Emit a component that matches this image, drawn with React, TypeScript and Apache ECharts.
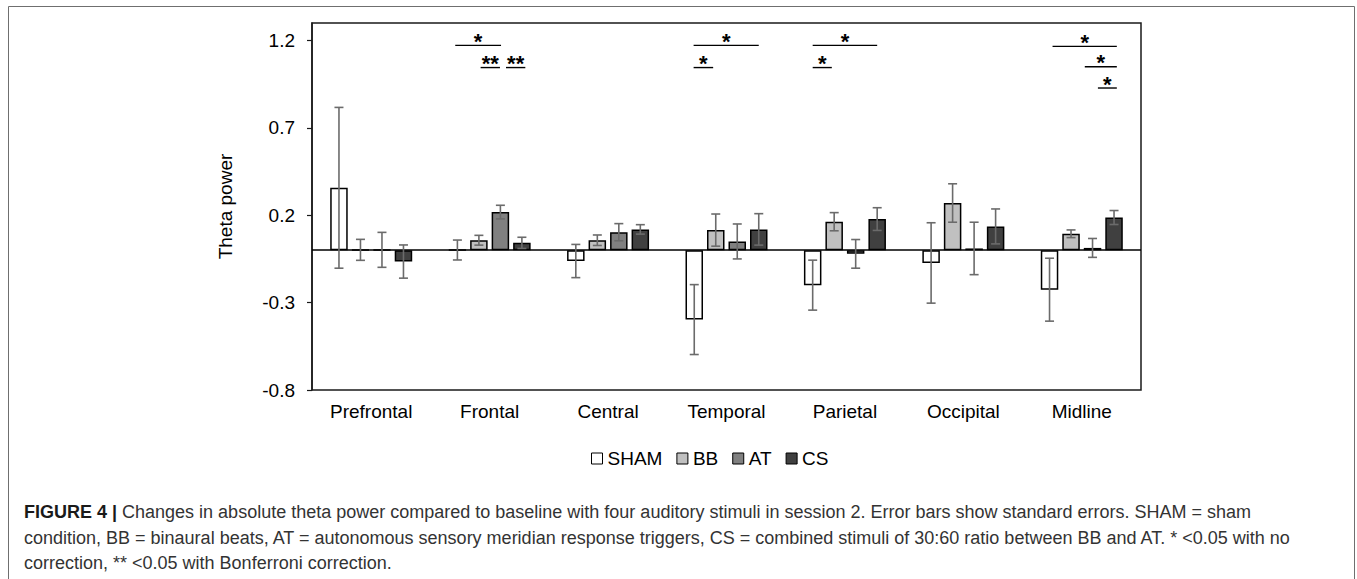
import React, { useEffect, useRef } from "react";
import * as echarts from "echarts";

const categories = ["Prefrontal", "Frontal", "Central", "Temporal", "Parietal", "Occipital", "Midline"];
const seriesNames = ["SHAM", "BB", "AT", "CS"];

const shamMean = [0.357, 0.001, -0.062, -0.397, -0.2, -0.073, -0.226];
const shamErr = [0.46, 0.057, 0.095, 0.2, 0.143, 0.23, 0.18];
const bbMean = [0.002, 0.057, 0.057, 0.115, 0.163, 0.27, 0.094];
const bbErr = [0.06, 0.028, 0.03, 0.092, 0.052, 0.11, 0.022];
const atMean = [0.002, 0.218, 0.103, 0.05, -0.021, 0.01, 0.013];
const atErr = [0.1, 0.039, 0.049, 0.1, 0.082, 0.15, 0.054];
const csMean = [-0.065, 0.042, 0.119, 0.119, 0.178, 0.136, 0.187];
const csErr = [0.095, 0.032, 0.027, 0.09, 0.065, 0.1, 0.04];

const yTicks = [-0.8, -0.3, 0.2, 0.7, 1.2];

// significance brackets: category, from bar position, to bar position, height, label
const sigCategory = [1, 1, 1, 3, 3, 4, 4, 6, 6, 6];
const sigFrom = [-0.1, 1.08, 2.26, -0.03, -0.03, 0, 0, 0.14, 1.64, 2.25];
const sigTo = [2.03, 1.98, 3.16, 3.0, 0.88, 3.0, 0.89, 3.13, 3.13, 3.13];
const sigLevel = [1.172, 1.045, 1.045, 1.172, 1.045, 1.172, 1.045, 1.166, 1.05, 0.928];
const sigLabel = ["*", "**", "**", "*", "*", "*", "*", "*", "*", "*"];

const captionLines = [
  "Changes in absolute theta power compared to baseline with four auditory stimuli in session 2. Error bars show standard errors. SHAM = sham",
  "condition, BB = binaural beats, AT = autonomous sensory meridian response triggers, CS = combined stimuli of 30:60 ratio between BB and AT. * <0.05 with no",
  "correction, ** <0.05 with Bonferroni correction.",
];

const FONT = "'Liberation Sans', Arial, sans-serif";
const BAR_W = 17.5;
const BAR_GAP = 4;
const PITCH = BAR_W + BAR_GAP;
const fills = ["#ffffff", "#c0c0c0", "#808080", "#404040"];

export default function App() {
  const ref = useRef<HTMLDivElement>(null);
  useEffect(() => {
    if (!ref.current) return;
    const chart = echarts.init(ref.current, null, { renderer: "svg" });
    const means = [shamMean, bbMean, atMean, csMean];
    const errs = [shamErr, bbErr, atErr, csErr];

    const barSeries = seriesNames.map((name, i) => ({
      name,
      type: "bar",
      data: means[i],
      barWidth: BAR_W,
      barGap: (BAR_GAP / BAR_W) * 100 + "%",
      itemStyle: { color: fills[i], borderColor: "#000", borderWidth: 1.5 },
      z: 2,
      ...(i === 0
        ? {
            markLine: {
              silent: true,
              symbol: "none",
              label: { show: false },
              lineStyle: { color: "#000", width: 1.5, type: "solid" },
              data: [{ yAxis: 0 }],
              z: 1,
            },
          }
        : {}),
    }));

    const errData: number[][] = [];
    for (let s = 0; s < 4; s++) {
      for (let c = 0; c < categories.length; c++) {
        errData.push([c, s, means[s][c], errs[s][c]]);
      }
    }

    const sigData = sigCategory.map((c, i) => [c, sigFrom[i], sigTo[i], sigLevel[i]]);

    const capStyle = { fontFamily: FONT, fontSize: 18, fill: "#333" };

    const option: any = {
      animation: false,
      grid: {
        left: 312,
        right: 216,
        top: 23,
        bottom: 189,
        show: true,
        borderColor: "#1a1a1a",
        borderWidth: 1.5,
        backgroundColor: "transparent",
      },
      legend: {
        data: seriesNames,
        left: 586,
        top: 444,
        icon: "rect",
        itemWidth: 11,
        itemHeight: 11,
        itemGap: 14,
        selectedMode: false,
        itemStyle: { borderColor: "#000", borderWidth: 1 },
        textStyle: { fontFamily: FONT, fontSize: 19, color: "#000" },
      },
      xAxis: {
        type: "category",
        data: categories,
        axisLine: { show: false, onZero: false },
        axisTick: { show: false },
        axisLabel: { fontFamily: FONT, fontSize: 19, color: "#000", margin: 12 },
        splitLine: { show: false },
      },
      yAxis: {
        type: "value",
        min: -0.8,
        max: 1.3,
        name: "Theta power",
        nameLocation: "middle",
        nameGap: 77,
        nameTextStyle: { fontFamily: FONT, fontSize: 19, color: "#000" },
        axisLine: { show: true, lineStyle: { color: "#1a1a1a", width: 1.5 } },
        axisTick: { show: true, length: 5, customValues: yTicks, lineStyle: { color: "#1a1a1a", width: 1.2 } },
        axisLabel: {
          customValues: yTicks,
          fontFamily: FONT,
          fontSize: 19,
          color: "#000",
          margin: 17,
          formatter: (v: number) => v.toFixed(1),
        },
        splitLine: { show: false },
      },
      series: [
        ...barSeries,
        {
          type: "custom",
          name: "err",
          data: errData,
          encode: { x: 0, y: 2 },
          z: 5,
          silent: true,
          renderItem: (params: any, api: any) => {
            const c = api.value(0);
            const s = api.value(1);
            const m = api.value(2);
            const e = api.value(3);
            const base = api.coord([c, m]);
            const x = base[0] + (s - 1.5) * PITCH;
            const yT = api.coord([c, m + e])[1];
            const yB = api.coord([c, m - e])[1];
            const style = { stroke: "#6b6b6b", lineWidth: 1.6 };
            const hw = 4.5;
            return {
              type: "group",
              children: [
                { type: "line", shape: { x1: x, y1: yT, x2: x, y2: yB }, style },
                { type: "line", shape: { x1: x - hw, y1: yT, x2: x + hw, y2: yT }, style },
                { type: "line", shape: { x1: x - hw, y1: yB, x2: x + hw, y2: yB }, style },
              ],
            };
          },
        },
        {
          type: "custom",
          name: "sig",
          data: sigData,
          encode: { x: 0, y: 3 },
          z: 6,
          silent: true,
          renderItem: (params: any, api: any) => {
            const c = api.value(0);
            const f = api.value(1);
            const t = api.value(2);
            const lv = api.value(3);
            const p = api.coord([c, lv]);
            const x1 = p[0] + (f - 1.5) * PITCH;
            const x2 = p[0] + (t - 1.5) * PITCH;
            const y = p[1];
            return {
              type: "group",
              children: [
                { type: "line", shape: { x1, y1: y, x2, y2: y }, style: { stroke: "#000", lineWidth: 1.4 } },
                {
                  type: "text",
                  x: (x1 + x2) / 2,
                  y: y - 4,
                  style: {
                    text: sigLabel[params.dataIndex],
                    fontFamily: FONT,
                    fontSize: 22,
                    fontWeight: "bold",
                    fill: "#000",
                    align: "center",
                    verticalAlign: "middle",
                  },
                },
              ],
            };
          },
        },
      ],
      graphic: [
        {
          type: "rect",
          silent: true,
          shape: { x: 8.5, y: 6.5, width: 1346, height: 620 },
          style: { fill: "none", stroke: "#6f6f6f", lineWidth: 1 },
        },
        {
          type: "text",
          left: 24,
          top: 512 - 9,
          style: {
            ...capStyle,
            text: "{b|FIGURE 4 |} " + captionLines[0],
            rich: { b: { fontFamily: FONT, fontSize: 18, fontWeight: "bold", fill: "#1a1a1a" } },
          },
        },
        {
          type: "text",
          left: 24,
          top: 537.5 - 9,
          style: { ...capStyle, text: captionLines[1] },
        },
        {
          type: "text",
          left: 24,
          top: 563 - 9,
          style: { ...capStyle, text: captionLines[2] },
        },
      ],
    };
    chart.setOption(option);
    return () => chart.dispose();
  }, []);
  return (
    <div
      ref={ref}
      style={{ position: "absolute", left: 0, top: 0, width: 1357, height: 579, background: "#fff" }}
    />
  );
}
